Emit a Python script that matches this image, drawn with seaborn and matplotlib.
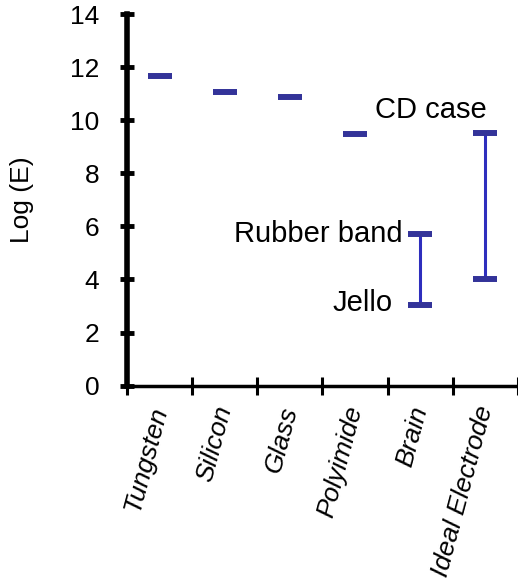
import matplotlib
matplotlib.use("Agg")
import matplotlib.pyplot as plt
import seaborn as sns
import pandas as pd
import numpy as np

materials = ["Tungsten", "Silicon", "Glass", "Polyimide", "Brain", "Ideal Electrode"]
low = [11.65, 11.07, 10.87, 9.47, 3.03, 4.02]
high = [11.65, 11.07, 10.87, 9.47, 5.72, 9.53]
y_ticks = [0, 2, 4, 6, 8, 10, 12, 14]
annot_text = ["CD case", "Rubber band", "Jello"]
annot_x = [5.02, 3.73, 3.58]
annot_y = [10.4, 5.72, 3.12]
y_label = "Log (E)"

sns.set_theme(style="white")
plt.rcParams['font.family'] = ['Liberation Sans', 'DejaVu Sans']
for k in ["text.color", "axes.labelcolor", "xtick.color", "ytick.color"]:
    plt.rcParams[k] = "black"

fig = plt.figure(figsize=(5.18, 5.78), dpi=100)
ax = fig.add_axes([127/518, 1-385.7/578, 1-127/518, (385.7-14)/578])

pos = np.arange(len(materials))
df = pd.DataFrame({
    "pos": np.concatenate([pos, pos]),
    "value": low + high,
})
df = df.drop_duplicates()

# range lines
for i, (lo, hi) in enumerate(zip(low, high)):
    if hi > lo:
        ax.vlines(i, lo, hi, color="#2e2ebd", linewidth=2.2, zorder=2)

sns.scatterplot(data=df, x="pos", y="value", marker="_", s=300,
                linewidth=4.3, color="#333399", ax=ax, zorder=3, legend=False)

ax.set_xlim(-0.5, len(materials) - 0.5)
ax.set_ylim(0, 14)
ax.set_yticks(y_ticks)
ax.set_yticklabels([str(t) for t in y_ticks], fontsize=19)
ax.set_xticks(pos)
ax.set_xticklabels(materials, fontsize=19, style="italic", rotation=75,
                   ha="right", va="center", rotation_mode="anchor")
ax.set_xticks(np.arange(-0.5, len(materials) + 0.5, 1), minor=True)
ax.tick_params(axis="x", which="major", length=0, pad=15)
ax.tick_params(axis="x", which="minor", direction="inout", length=13, width=2.2, color="black", bottom=True)
ax.tick_params(axis="y", which="major", direction="inout", length=10, width=3.5, color="black", pad=15, left=True)
ax.set_xlabel("")
ax.set_ylabel(y_label, fontsize=19, labelpad=26)

for s in ["top", "right"]:
    ax.spines[s].set_visible(False)
ax.spines["left"].set_linewidth(4)
ax.spines["left"].set_color("black")
ax.spines["bottom"].set_linewidth(2.5)
ax.spines["bottom"].set_color("black")
ax.spines["left"].set_zorder(4)

for t, x, y in zip(annot_text, annot_x, annot_y):
    ax.text(x, y, t, fontsize=21, ha="right", va="center", color="black")

for sp in ax.spines.values():
    sp.set_clip_on(False)
ax.set_facecolor("white")
fig.savefig("out.png", dpi=100, facecolor="white")
